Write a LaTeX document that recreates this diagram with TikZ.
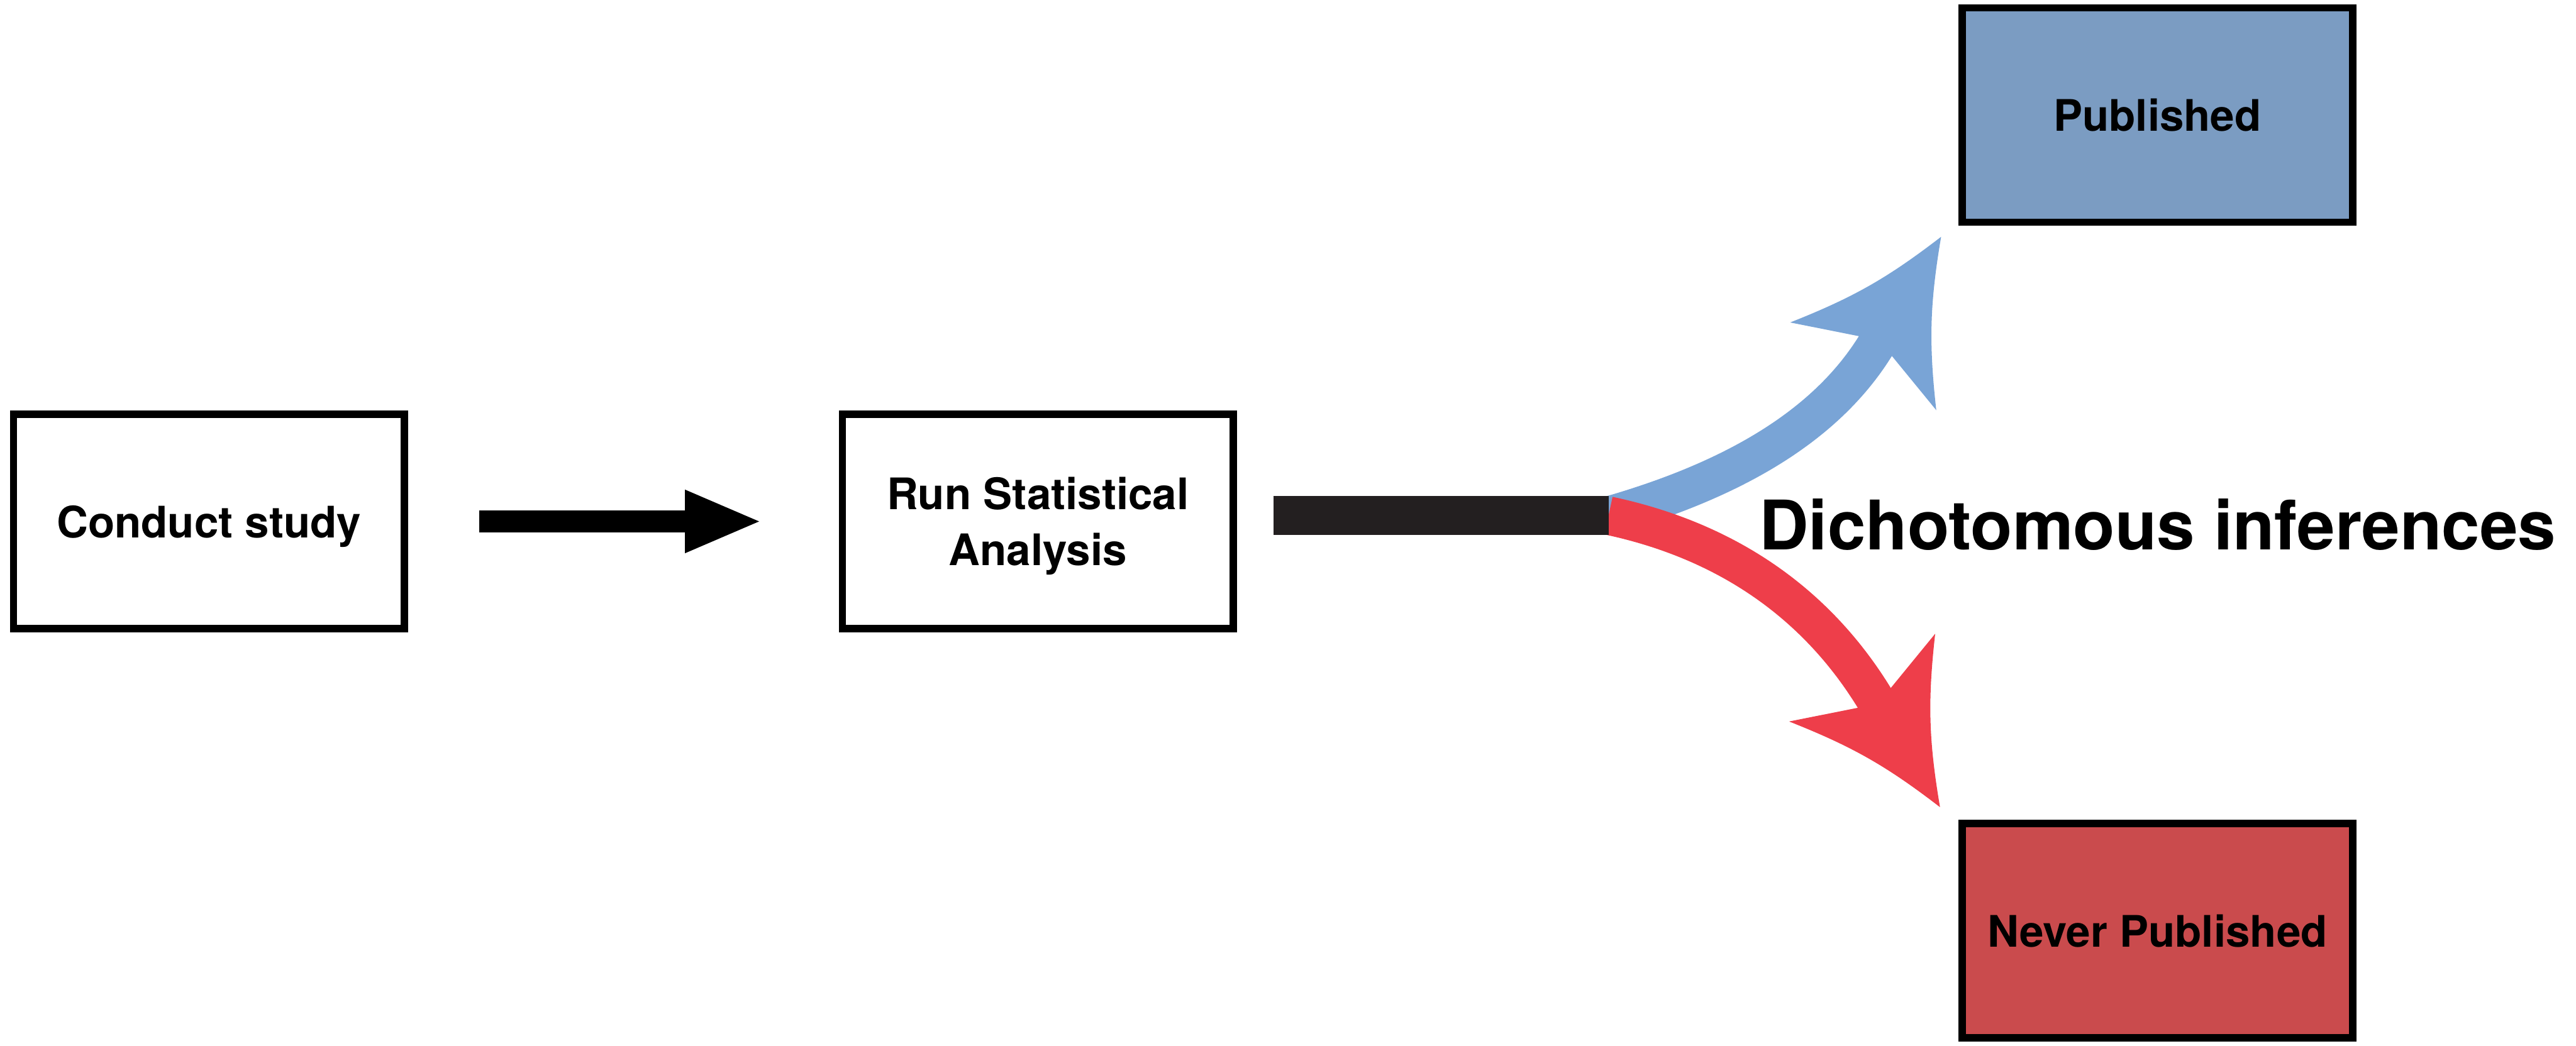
\documentclass[tikz,border=0pt]{standalone}
\usepackage{fontspec}
\setmainfont{TeX Gyre Heros}
\usepackage{tikz}
\usetikzlibrary{arrows.meta, calc, positioning}
\definecolor{pubblue}{RGB}{123,156,194}
\definecolor{nopubred}{RGB}{202,75,77}
\definecolor{arrowblue}{RGB}{121,164,214}
\definecolor{arrowred}{RGB}{238,62,74}
\definecolor{barblack}{RGB}{35,31,32}
\newcommand{\boxfont}{\fontsize{22.5}{29}\selectfont\bfseries}
\tikzset{
	swepthead/.pic={
			\fill[#1]
			(0,0) to[bend left=8]
			(-2.75,1.55) --
			(-2.32,0.35) --
			(-2.32,-0.35) --
			(-2.75,-1.55) to[bend left=8]
			(0,0) -- cycle;
		}
}

\begin{document}
\begin{tikzpicture}

              \tikzset{
                stepbox/.style={
                    shape=rectangle,
                    draw=black,
                    line width=0.133cm,
                    fill=white,
                    minimum width=7.11cm,
                    minimum height=3.90cm,
                    inner sep=0pt,
                    text depth=0pt,
                    align=center,
                    font=\boxfont
                  },
                flowline/.style={line width=0.70cm}
              }
              \useasboundingbox (0,0) rectangle (46.86,19.03);

              \coordinate (fork) at (29.26,9.645);
              \coordinate (pubtip) at (35.31,14.72);
              \coordinate (nopubtip) at (35.29,4.34);

              \node[stepbox] (study) at (3.80,9.54) {Conduct study};
              \node[stepbox] (analysis) at (18.88,9.54) {Run Statistical\\Analysis};
              \node[stepbox, fill=pubblue] (pub) at (39.245,16.935) {Published};
              \node[stepbox, fill=nopubred] (nopub) at (39.245,2.095) {Never Published};

              \draw[line width=0.39cm, -{Triangle[length=1.35cm, width=1.16cm, line width=0pt]},
                shorten <=1.30cm, shorten >=1.45cm] (study) -- (analysis);

              \draw[flowline, arrowblue] (fork) to[out=16, in=239, in looseness=0.8] ($(pubtip)+(239:2.25)$);
              \pic[rotate=59] at (pubtip) {swepthead=arrowblue};
              \draw[flowline, arrowred] (fork) to[out=-12, in=121, in looseness=0.85] ($(nopubtip)+(121:2.25)$);
              \pic[rotate=-59] at (nopubtip) {swepthead=arrowred};

              \draw[line width=0.71cm, barblack, shorten <=0.66cm] (analysis.east |- fork) -- (fork);

              \node[font=\fontsize{35.4}{42}\selectfont\bfseries, anchor=base] (dich) at (39.25,9.02) {Dichotomous inferences};

            \end{tikzpicture}
\end{document}
